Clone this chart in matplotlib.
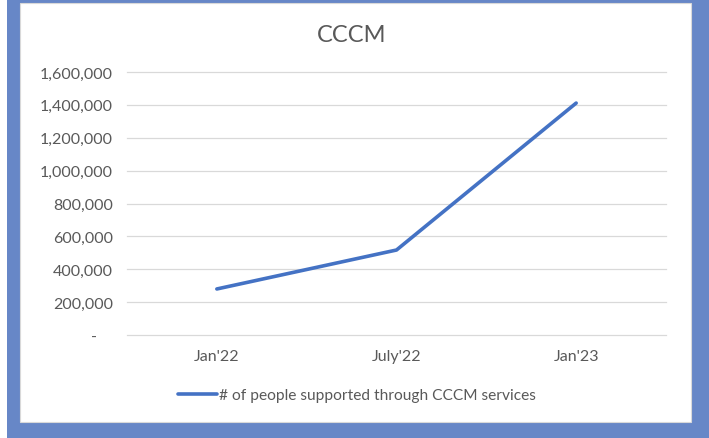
import matplotlib.pyplot as plt
import matplotlib
from matplotlib.patches import Rectangle
from matplotlib.ticker import FuncFormatter

matplotlib.rcParams['font.family'] = ['Lato', 'DejaVu Sans']

# data
periods = ["Jan'22", "July'22", "Jan'23"]
people = [280000, 517000, 1411000]
series_name = '# of people supported through CCCM services'

W, H = 709, 439
fig = plt.figure(figsize=(W / 100, H / 100), dpi=100)
fig.patch.set_facecolor('white')

# blue frame around a white chart area
fig.add_artist(Rectangle((7 / W, 0), 1, 1, transform=fig.transFigure,
                         facecolor='#6787c7', edgecolor='none', zorder=0))
fig.add_artist(Rectangle((20 / W, 16 / H), (691 - 20) / W, (435 - 16) / H,
                         transform=fig.transFigure, facecolor='white',
                         edgecolor='#d9d9d9', linewidth=0.8, zorder=0))

ax = fig.add_axes([127 / W, (H - 336) / H, (666 - 127) / W, (336 - 73) / H])
ax.set_facecolor('none')
x = range(len(periods))
ax.plot(x, people, color='#4472c4', linewidth=2.6, solid_capstyle='round',
        label=series_name)

ax.set_xlim(-0.5, 2.5)
ax.set_ylim(0, 1600000)
ax.set_yticks(range(0, 1600001, 200000))
ax.yaxis.set_major_formatter(FuncFormatter(lambda v, p: '-    ' if v == 0 else f'{int(v):,}'))
ax.set_xticks(list(x))
ax.set_xticklabels(periods)
ax.grid(axis='y', color='#d9d9d9', linewidth=0.9)
for gl in ax.get_ygridlines():
    gl.set_clip_on(False)
ax.set_axisbelow(True)
for s in ax.spines.values():
    s.set_visible(False)
ax.tick_params(axis='both', length=0, labelsize=11.5, labelcolor='#595959')
ax.tick_params(axis='y', pad=10)
ax.tick_params(axis='x', pad=10)

fig.text(352 / W, 1 - 35 / H, 'CCCM', ha='center', va='center',
         fontsize=17, color='#595959')

ax.legend(loc='center', bbox_to_anchor=(357 / W, 1 - 396 / H),
          bbox_transform=fig.transFigure, frameon=False, fontsize=11.2,
          handlelength=2.5, handletextpad=0.1, labelcolor='#595959')

plt.savefig('out.png', dpi=100)
